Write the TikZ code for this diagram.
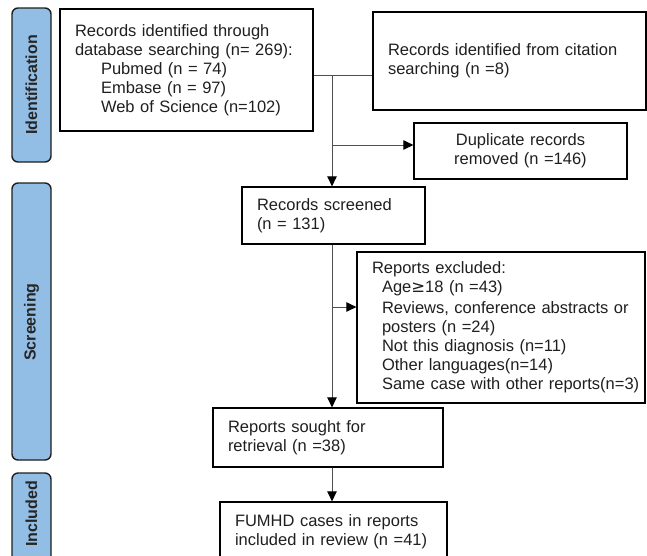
\documentclass[tikz,border=0pt]{standalone}
\usepackage{fontspec}
\setmainfont{Liberation Sans}
\newfontfamily\symfont{DejaVu Sans}
\usetikzlibrary{arrows.meta}
\definecolor{barblue}{RGB}{146,189,228}
\definecolor{linegray}{RGB}{80,80,80}
\definecolor{bordergray}{RGB}{30,30,30}
\tikzset{
  phasebar/.style={draw=bordergray, line width=1.4pt, fill=barblue, rounded corners=6pt},
  phaselabel/.style={rotate=90, font=\fontsize{16}{19}\selectfont\bfseries, text=black!85},
  box/.style={draw=black, line width=1.3pt, inner xsep=15pt, inner ysep=0pt,
    font=\fontsize{16.5}{19}\selectfont, text=black!88, align=left},
  conn/.style={draw=linegray, line width=1pt},
  tip/.style={-{Triangle[length=10pt,width=9.5pt,color=black]}}
}
\begin{document}
\begin{tikzpicture}[x=1pt,y=-1pt]
\useasboundingbox (0,0) rectangle (647,555);
\clip (0,0) rectangle (647,555);

% phase bars
\draw[phasebar] (12,8) rectangle (51,162);
\draw[phasebar] (12,183) rectangle (51,460);
\draw[phasebar] (12,473) rectangle (51,585);
\node[phaselabel] (lid) at (31.5,85) {Identification};
\node[phaselabel] (lscr) at (31.5,322) {Screening};
\node[phaselabel] (linc) at (31.5,514) {Included};

% boxes
\node[box, minimum width=253pt, text width=223pt, minimum height=122pt] (b1) at (186.5,70)
  {Records identified through\\database searching (n= 269):\\
   \hspace*{26pt}Pubmed (n = 74)\\
   \hspace*{26pt}Embase (n = 97)\\
   \hspace*{26pt}Web of Science (n=102)};
\node[box, minimum width=273pt, text width=243pt, minimum height=98pt] (b2) at (509.5,61)
  {Records identified from citation\\searching (n =8)};
\node[box, align=center, minimum width=213pt, text width=183pt, minimum height=56pt] (dup) at (520.5,151)
  {Duplicate records\\removed (n =146)};
\node[box, minimum width=183pt, text width=153pt, minimum height=57pt] (scr) at (333.5,215.5)
  {Records screened\\(n = 131)};
\node[box, minimum width=288pt, text width=258pt, minimum height=151pt] (excl) at (501,327.5)
  {Reports excluded:\\
   \hspace*{10pt}Age{\symfont ≥}18 (n =43)\\[2pt]
   \hspace*{10pt}Reviews, conference abstracts or\\
   \hspace*{10pt}posters (n =24)\\
   \hspace*{10pt}Not this diagnosis (n=11)\\
   \hspace*{10pt}Other languages(n=14)\\
   \mbox{\hspace*{10pt}Same case with other reports(n=3)}};
\node[box, minimum width=230pt, text width=200pt, minimum height=59pt] (sought) at (328,437.5)
  {Reports sought for\\retrieval (n =38)};
\node[box, minimum width=227pt, text width=197pt, minimum height=60pt] (fum) at (333.5,532)
  {FUMHD cases in reports\\included in review (n =41)};

% junctions
\coordinate (j1) at (332,75);
\coordinate (j2) at (332,145);
\coordinate (j3) at (332,307);

% connectors
\draw[conn] (b1.east |- j1) -- (b2.west |- j1);
\draw[conn, tip] (j1) -- (j1 |- scr.north);
\draw[conn, tip] (j2) -- (dup.west |- j2);
\draw[conn, tip] (scr.south -| j1) -- (sought.north -| j1);
\draw[conn, tip] (j3) -- (excl.west |- j3);
\draw[conn, tip] (sought.south -| j1) -- (fum.north -| j1);
\end{tikzpicture}
\end{document}
